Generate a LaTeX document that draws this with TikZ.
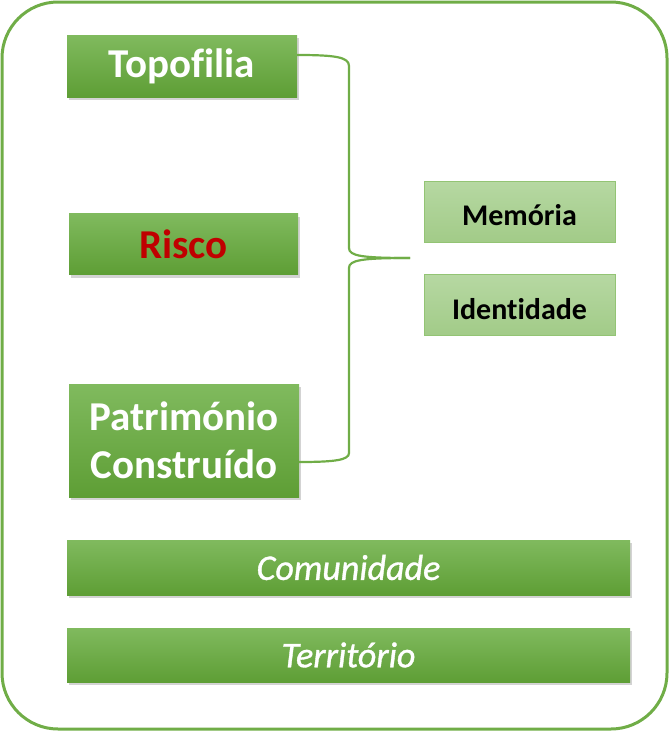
\documentclass[tikz,border=0pt]{standalone}
\usepackage{fontspec}
\setmainfont[Ligatures=NoCommon]{Carlito}
\usetikzlibrary{shadows}
\definecolor{grn}{HTML}{70AD47}
\definecolor{gtop}{HTML}{80BA5E}
\definecolor{gbot}{HTML}{5E9E35}
\definecolor{ltop}{HTML}{B6D8A2}
\definecolor{lbot}{HTML}{A2CB88}
\definecolor{lbord}{HTML}{93C474}
\definecolor{redtxt}{HTML}{C00000}
\tikzset{
  darkbox/.style={top color=gtop, bottom color=gbot, draw=none, text=white,
    font=\bfseries\fontsize{41}{49}\selectfont, align=center, inner sep=0pt,
    drop shadow={opacity=0.35, shadow xshift=2pt, shadow yshift=-3pt}},
  widebox/.style={darkbox, font=\itshape\addfontfeature{FakeBold=1}\fontsize{36}{42}\selectfont,
    minimum width=563pt, minimum height=55pt},
  lightbox/.style={top color=ltop, bottom color=lbot, draw=lbord, line width=0.8pt,
    text=black, font=\bfseries\fontsize{30}{36}\selectfont, inner sep=0pt,
    minimum width=191pt, minimum height=61pt, text height=28pt, text depth=0pt},
  bracel/.style={draw=grn, line width=2.2pt}
}
\begin{document}
\begin{tikzpicture}[x=1pt,y=-1pt]
\useasboundingbox (0,0) rectangle (669,731);
\draw[grn, line width=3pt, rounded corners=56pt] (2,2) rectangle (667,729);

\node[darkbox, minimum width=230pt, minimum height=62pt] (topo) at (182,66) {Topofilia};
\node[darkbox, minimum width=229pt, minimum height=61pt, text=redtxt] (risco) at (183.5,244) {Risco};
\node[darkbox, minimum width=230pt, minimum height=113pt] (patr) at (184,440.5) {Património\\[-1pt]Construído};

\node[lightbox] (mem) at (519.5,211.5) {Memória};
\node[lightbox] (ident) at (519.5,305) {Identidade};

\node[widebox] (com) at (348.5,567.5) {Comunidade};
\node[widebox, minimum height=54pt] (terr) at (348.5,655) {Território};

\coordinate (tip) at (410,258);
\draw[bracel] ([yshift=11pt]topo.east) .. controls (335,55) and (349,57) .. (349,66)
  -- (349,248) .. controls (349,256) and (362,258) .. (tip);
\draw[bracel] (tip) .. controls (362,258) and (349,260) .. (349,268)
  -- (349,453) .. controls (349,460) and (335,462) .. ([yshift=-21.5pt]patr.east);
\end{tikzpicture}
\end{document}
